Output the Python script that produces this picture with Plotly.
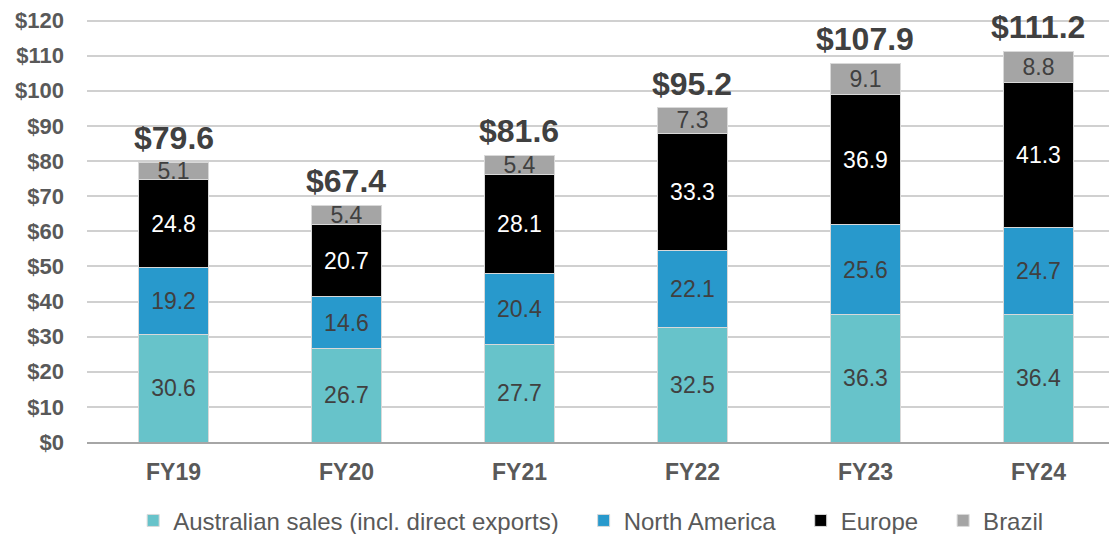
import plotly.graph_objects as go

categories = ["FY19", "FY20", "FY21", "FY22", "FY23", "FY24"]
australia = [30.6, 26.7, 27.7, 32.5, 36.3, 36.4]
north_america = [19.2, 14.6, 20.4, 22.1, 25.6, 24.7]
europe = [24.8, 20.7, 28.1, 33.3, 36.9, 41.3]
brazil = [5.1, 5.4, 5.4, 7.3, 9.1, 8.8]
totals = [79.6, 67.4, 81.6, 95.2, 107.9, 111.2]
tick_vals = list(range(0, 121, 10))
tick_text = ["$" + str(v) for v in tick_vals]

FONT = "Liberation Sans, Arial, sans-serif"
PAD = "\u00a0" * 3

series = [
    ("Australian sales (incl. direct exports)" + PAD, australia, "#67C3CA", "#404040"),
    ("North America" + PAD, north_america, "#2899CC", "#404040"),
    ("Europe" + PAD, europe, "#000000", "#FFFFFF"),
    ("Brazil", brazil, "#A5A5A5", "#404040"),
]

fig = go.Figure()
for name, vals, color, tcolor in series:
    fig.add_trace(go.Bar(
        x=categories, y=vals, name=name,
        marker=dict(color=color, line=dict(color="#D9D9D9", width=1)),
        text=[f"{v:.1f}" for v in vals],
        textposition="inside", insidetextanchor="middle", textangle=0,
        textfont=dict(family=FONT, size=23, color=tcolor),
        hoverinfo="skip",
    ))

for c, t in zip(categories, totals):
    fig.add_annotation(
        x=c, y=t, text=f"<b>${t:.1f}</b>", showarrow=False,
        yanchor="bottom", yshift=4,
        font=dict(family=FONT, size=32, color="#404040"),
    )

# page body has an 8px margin, so the figure is sized to fit the window
fig.update_layout(
    barmode="stack", bargap=0.6,
    width=1109, height=526,
    margin=dict(l=79, r=0, t=9, b=92, autoexpand=False),
    plot_bgcolor="white", paper_bgcolor="white",
    uniformtext=dict(minsize=23, mode="show"),
    font=dict(family=FONT, color="#595959"),
    legend=dict(
        orientation="h", x=0.489, xanchor="center",
        yref="container", y=0.025, yanchor="middle",
        font=dict(family=FONT, size=24, color="#595959"),
        traceorder="normal", itemwidth=30,
    ),
    showlegend=True,
)
fig.update_yaxes(
    range=[0, 121], tickvals=tick_vals, ticktext=tick_text,
    showgrid=True, gridcolor="#D0D0D0", gridwidth=1.5,
    zeroline=False, showline=False, automargin=False,
    ticklabeloverflow="allow",
    tickfont=dict(family=FONT, size=22, color="#595959", weight="bold"),
    ticks="", ticklabelstandoff=22,
)
fig.update_xaxes(
    range=[-0.5, 5.454], automargin=False,
    showline=True, linecolor="#A6A6A6", linewidth=2,
    tickfont=dict(family=FONT, size=23, color="#595959", weight="bold"),
    ticks="", ticklabelstandoff=8,
)

fig.write_html("out.html")
